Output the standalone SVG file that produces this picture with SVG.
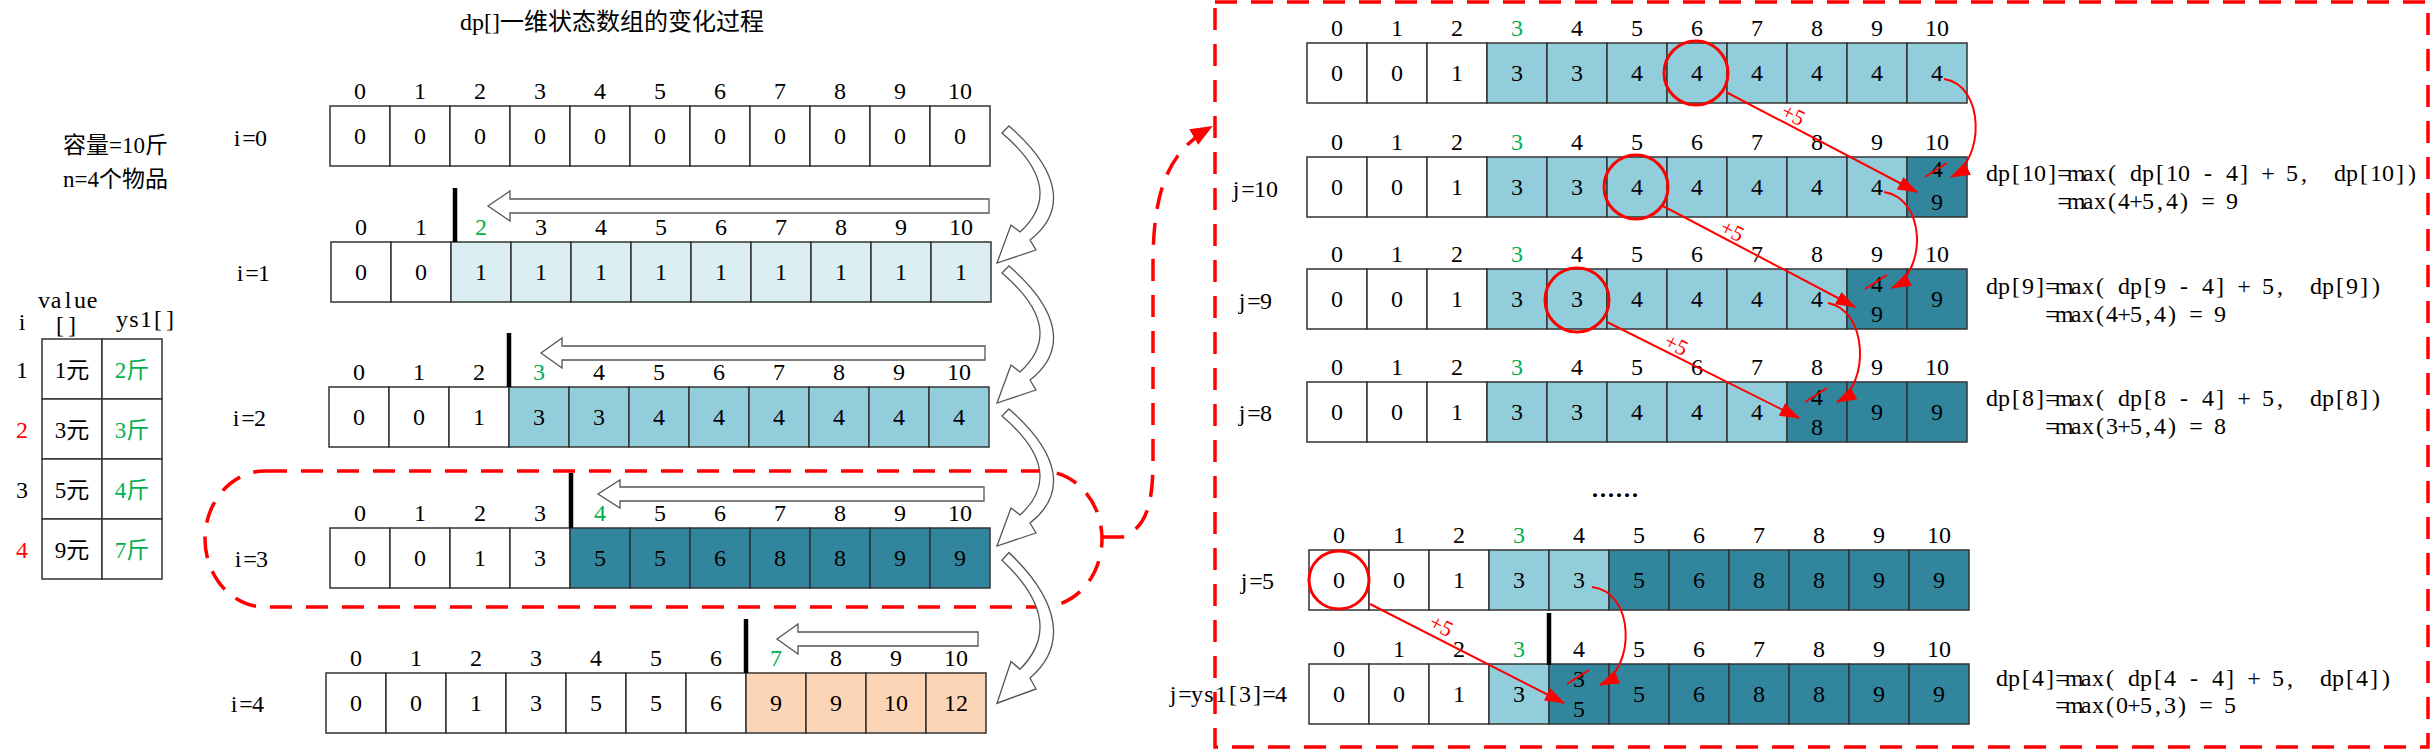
<svg xmlns="http://www.w3.org/2000/svg" xmlns:xlink="http://www.w3.org/1999/xlink" width="2434" height="750" viewBox="0 0 2434 750">
<style>
.cells rect{stroke:#333;stroke-width:1.5}
.w{fill:#fff}.l{fill:#DAEEF3}.m{fill:#92CDDC}.k{fill:#31859C}.p{fill:#FBD5B5}
.d{font-family:"Liberation Serif",serif;font-size:24px;text-anchor:middle;fill:#000}
.s{font-family:"Liberation Serif",serif;font-size:24px;text-anchor:middle;fill:#000}
.cn{font-family:"Liberation Serif","Noto Sans CJK SC",sans-serif;font-size:23px;fill:#000}
.g{fill:#00B050}.r{fill:#f00}
.hol{fill:#fff;stroke:#555;stroke-width:1.3}
.red{fill:none;stroke:#f00;stroke-width:2}
.dash{fill:none;stroke:#f00;stroke-width:3.5;stroke-dasharray:22 14}
.circ{fill:none;stroke:#f00;stroke-width:3}
.bar{stroke:#000;stroke-width:4.5}
.plus{font-family:"Liberation Serif",serif;font-size:22px;fill:#f00;text-anchor:middle}
</style>
<defs>
<marker id="rh" markerUnits="userSpaceOnUse" markerWidth="20" markerHeight="14" viewBox="0 0 20 14" refX="19" refY="7" orient="auto"><path d="M0,0 L20,7 L0,14 Z" fill="#f00"/></marker>
<marker id="bh" markerUnits="userSpaceOnUse" markerWidth="22" markerHeight="18" viewBox="0 0 22 18" refX="20" refY="9" orient="auto"><path d="M0,0 L22,9 L0,18 Z" fill="#f00"/></marker>
<path id="ca" d="M1009,126 C1062,172 1066,212 1030,240 L1036,250 L997,263 L1011,225 L1020,232 C1050,205 1048,172 1002,133 Z"/>
</defs>
<rect width="2434" height="750" fill="#fff"/>

<g id="title"><text class="cn" x="460" y="30" style="font-size:24px">dp[]一维状态数组的变化过程</text></g>

<g id="info">
<text class="cn" x="63" y="153">容量=10斤</text>
<text class="cn" x="63" y="187">n=4个物品</text>
</g>

<g id="item-table">
<text class="s" x="22" y="330">i</text>
<text class="s" transform="translate(38,308)" x="6 18 30 42 54">value</text>
<text class="s" transform="translate(54,333)" x="6 18">[]</text>
<text class="s" transform="translate(116,327)" x="6 18 30 42 54">ys1[]</text>
<g class="cells">
<rect class="w" x="42" y="339" width="60" height="60"/><rect class="w" x="102" y="339" width="60" height="60"/>
<rect class="w" x="42" y="399" width="60" height="60"/><rect class="w" x="102" y="399" width="60" height="60"/>
<rect class="w" x="42" y="459" width="60" height="60"/><rect class="w" x="102" y="459" width="60" height="60"/>
<rect class="w" x="42" y="519" width="60" height="60"/><rect class="w" x="102" y="519" width="60" height="60"/>
</g>
<text class="s" x="22" y="378">1</text>
<text class="s r" x="22" y="438">2</text>
<text class="s" x="22" y="498">3</text>
<text class="s r" x="22" y="558">4</text>
<text class="cn" x="72" y="378" text-anchor="middle">1元</text>
<text class="cn g" x="132" y="378" text-anchor="middle">2斤</text>
<text class="cn" x="72" y="438" text-anchor="middle">3元</text>
<text class="cn g" x="132" y="438" text-anchor="middle">3斤</text>
<text class="cn" x="72" y="498" text-anchor="middle">5元</text>
<text class="cn g" x="132" y="498" text-anchor="middle">4斤</text>
<text class="cn" x="72" y="558" text-anchor="middle">9元</text>
<text class="cn g" x="132" y="558" text-anchor="middle">7斤</text>
</g>

<g id="highlight-i3"><rect class="dash" x="205" y="471" width="897" height="136" rx="60" ry="68"/></g>
<g id="detail-box"><rect class="dash" x="1215" y="2" width="1213" height="745"/></g>

<g id="row-i0">
<text class="s" transform="translate(231,146)" x="6 18 30">i=0</text>
<g class="cells" transform="translate(330,106)">
<rect class="w" x="0" width="60" height="60"/><rect class="w" x="60" width="60" height="60"/><rect class="w" x="120" width="60" height="60"/><rect class="w" x="180" width="60" height="60"/><rect class="w" x="240" width="60" height="60"/><rect class="w" x="300" width="60" height="60"/><rect class="w" x="360" width="60" height="60"/><rect class="w" x="420" width="60" height="60"/><rect class="w" x="480" width="60" height="60"/><rect class="w" x="540" width="60" height="60"/><rect class="w" x="600" width="60" height="60"/>
<text class="d" x="30 90 150 210 270 330 390 450 510 570" y="-7">0123456789</text><text class="d" x="630" y="-7">10</text>
<text class="d" x="30 90 150 210 270 330 390 450 510 570 630" y="38">00000000000</text>
</g>
</g>

<g id="row-i1">
<text class="s" transform="translate(234,281)" x="6 18 30">i=1</text>
<g class="cells" transform="translate(331,242)">
<rect class="w" x="0" width="60" height="60"/><rect class="w" x="60" width="60" height="60"/><rect class="l" x="120" width="60" height="60"/><rect class="l" x="180" width="60" height="60"/><rect class="l" x="240" width="60" height="60"/><rect class="l" x="300" width="60" height="60"/><rect class="l" x="360" width="60" height="60"/><rect class="l" x="420" width="60" height="60"/><rect class="l" x="480" width="60" height="60"/><rect class="l" x="540" width="60" height="60"/><rect class="l" x="600" width="60" height="60"/>
<text class="d" x="30 90 150 210 270 330 390 450 510 570" y="-7">01<tspan class="g">2</tspan>3456789</text><text class="d" x="630" y="-7">10</text>
<text class="d" x="30 90 150 210 270 330 390 450 510 570 630" y="38">00111111111</text>
</g>
</g>

<g id="row-i2">
<text class="s" transform="translate(230,426)" x="6 18 30">i=2</text>
<g class="cells" transform="translate(329,387)">
<rect class="w" x="0" width="60" height="60"/><rect class="w" x="60" width="60" height="60"/><rect class="w" x="120" width="60" height="60"/><rect class="m" x="180" width="60" height="60"/><rect class="m" x="240" width="60" height="60"/><rect class="m" x="300" width="60" height="60"/><rect class="m" x="360" width="60" height="60"/><rect class="m" x="420" width="60" height="60"/><rect class="m" x="480" width="60" height="60"/><rect class="m" x="540" width="60" height="60"/><rect class="m" x="600" width="60" height="60"/>
<text class="d" x="30 90 150 210 270 330 390 450 510 570" y="-7">012<tspan class="g">3</tspan>456789</text><text class="d" x="630" y="-7">10</text>
<text class="d" x="30 90 150 210 270 330 390 450 510 570 630" y="38">00133444444</text>
</g>
</g>

<g id="row-i3">
<text class="s" transform="translate(232,567)" x="6 18 30">i=3</text>
<g class="cells" transform="translate(330,528)">
<rect class="w" x="0" width="60" height="60"/><rect class="w" x="60" width="60" height="60"/><rect class="w" x="120" width="60" height="60"/><rect class="w" x="180" width="60" height="60"/><rect class="k" x="240" width="60" height="60"/><rect class="k" x="300" width="60" height="60"/><rect class="k" x="360" width="60" height="60"/><rect class="k" x="420" width="60" height="60"/><rect class="k" x="480" width="60" height="60"/><rect class="k" x="540" width="60" height="60"/><rect class="k" x="600" width="60" height="60"/>
<text class="d" x="30 90 150 210 270 330 390 450 510 570" y="-7">0123<tspan class="g">4</tspan>56789</text><text class="d" x="630" y="-7">10</text>
<text class="d" x="30 90 150 210 270 330 390 450 510 570 630" y="38">00135568899</text>
</g>
</g>

<g id="row-i4">
<text class="s" transform="translate(228,712)" x="6 18 30">i=4</text>
<g class="cells" transform="translate(326,673)">
<rect class="w" x="0" width="60" height="60"/><rect class="w" x="60" width="60" height="60"/><rect class="w" x="120" width="60" height="60"/><rect class="w" x="180" width="60" height="60"/><rect class="w" x="240" width="60" height="60"/><rect class="w" x="300" width="60" height="60"/><rect class="w" x="360" width="60" height="60"/><rect class="p" x="420" width="60" height="60"/><rect class="p" x="480" width="60" height="60"/><rect class="p" x="540" width="60" height="60"/><rect class="p" x="600" width="60" height="60"/>
<text class="d" x="30 90 150 210 270 330 390 450 510 570" y="-7">0123456<tspan class="g">7</tspan>89</text><text class="d" x="630" y="-7">10</text>
<text class="d" x="30 90 150 210 270 330 390 450 510" y="38">001355699</text><text class="d" x="570" y="38">10</text><text class="d" x="630" y="38">12</text>
</g>
</g>

<g id="row-a">
<g class="cells" transform="translate(1307,43)">
<rect class="w" x="0" width="60" height="60"/><rect class="w" x="60" width="60" height="60"/><rect class="w" x="120" width="60" height="60"/><rect class="m" x="180" width="60" height="60"/><rect class="m" x="240" width="60" height="60"/><rect class="m" x="300" width="60" height="60"/><rect class="m" x="360" width="60" height="60"/><rect class="m" x="420" width="60" height="60"/><rect class="m" x="480" width="60" height="60"/><rect class="m" x="540" width="60" height="60"/><rect class="m" x="600" width="60" height="60"/>
<text class="d" x="30 90 150 210 270 330 390 450 510 570" y="-7">012<tspan class="g">3</tspan>456789</text><text class="d" x="630" y="-7">10</text>
<text class="d" x="30 90 150 210 270 330 390 450 510 570 630" y="38">00133444444</text>
</g>
</g>

<g id="row-j10">
<text class="s" transform="translate(1230,197)" x="6 18 30 42">j=10</text>
<g class="cells" transform="translate(1307,157)">
<rect class="w" x="0" width="60" height="60"/><rect class="w" x="60" width="60" height="60"/><rect class="w" x="120" width="60" height="60"/><rect class="m" x="180" width="60" height="60"/><rect class="m" x="240" width="60" height="60"/><rect class="m" x="300" width="60" height="60"/><rect class="m" x="360" width="60" height="60"/><rect class="m" x="420" width="60" height="60"/><rect class="m" x="480" width="60" height="60"/><rect class="m" x="540" width="60" height="60"/><rect class="k" x="600" width="60" height="60"/>
<text class="d" x="30 90 150 210 270 330 390 450 510 570" y="-7">012<tspan class="g">3</tspan>456789</text><text class="d" x="630" y="-7">10</text>
<text class="d" x="30 90 150 210 270 330 390 450 510 570" y="38">0013344444</text>
<text class="d" x="630" y="20">4</text><text class="d" x="630" y="53">9</text>
</g>
</g>

<g id="row-j9">
<text class="s" transform="translate(1236,309)" x="6 18 30">j=9</text>
<g class="cells" transform="translate(1307,269)">
<rect class="w" x="0" width="60" height="60"/><rect class="w" x="60" width="60" height="60"/><rect class="w" x="120" width="60" height="60"/><rect class="m" x="180" width="60" height="60"/><rect class="m" x="240" width="60" height="60"/><rect class="m" x="300" width="60" height="60"/><rect class="m" x="360" width="60" height="60"/><rect class="m" x="420" width="60" height="60"/><rect class="m" x="480" width="60" height="60"/><rect class="k" x="540" width="60" height="60"/><rect class="k" x="600" width="60" height="60"/>
<text class="d" x="30 90 150 210 270 330 390 450 510 570" y="-7">012<tspan class="g">3</tspan>456789</text><text class="d" x="630" y="-7">10</text>
<text class="d" x="30 90 150 210 270 330 390 450 510" y="38">001334444</text><text class="d" x="630" y="38">9</text>
<text class="d" x="570" y="23">4</text><text class="d" x="570" y="53">9</text>
</g>
</g>

<g id="row-j8">
<text class="s" transform="translate(1236,421)" x="6 18 30">j=8</text>
<g class="cells" transform="translate(1307,382)">
<rect class="w" x="0" width="60" height="60"/><rect class="w" x="60" width="60" height="60"/><rect class="w" x="120" width="60" height="60"/><rect class="m" x="180" width="60" height="60"/><rect class="m" x="240" width="60" height="60"/><rect class="m" x="300" width="60" height="60"/><rect class="m" x="360" width="60" height="60"/><rect class="m" x="420" width="60" height="60"/><rect class="k" x="480" width="60" height="60"/><rect class="k" x="540" width="60" height="60"/><rect class="k" x="600" width="60" height="60"/>
<text class="d" x="30 90 150 210 270 330 390 450 510 570" y="-7">012<tspan class="g">3</tspan>456789</text><text class="d" x="630" y="-7">10</text>
<text class="d" x="30 90 150 210 270 330 390 450" y="38">00133444</text><text class="d" x="570 630" y="38">99</text>
<text class="d" x="510" y="23">4</text><text class="d" x="510" y="53">8</text>
</g>
</g>

<g id="ellipsis"><text class="s" x="1595 1603 1611 1619 1627 1635" y="497" style="font-weight:bold">......</text></g>

<g id="row-j5">
<text class="s" transform="translate(1238,589)" x="6 18 30">j=5</text>
<g class="cells" transform="translate(1309,550)">
<rect class="w" x="0" width="60" height="60"/><rect class="w" x="60" width="60" height="60"/><rect class="w" x="120" width="60" height="60"/><rect class="m" x="180" width="60" height="60"/><rect class="m" x="240" width="60" height="60"/><rect class="k" x="300" width="60" height="60"/><rect class="k" x="360" width="60" height="60"/><rect class="k" x="420" width="60" height="60"/><rect class="k" x="480" width="60" height="60"/><rect class="k" x="540" width="60" height="60"/><rect class="k" x="600" width="60" height="60"/>
<text class="d" x="30 90 150 210 270 330 390 450 510 570" y="-7">012<tspan class="g">3</tspan>456789</text><text class="d" x="630" y="-7">10</text>
<text class="d" x="30 90 150 210 270 330 390 450 510 570 630" y="38">00133568899</text>
</g>
</g>

<g id="row-j4">
<text class="s" transform="translate(1167,702)" x="6 18 30 42 54 66 78 90 102 114">j=ys1[3]=4</text>
<g class="cells" transform="translate(1309,664)">
<rect class="w" x="0" width="60" height="60"/><rect class="w" x="60" width="60" height="60"/><rect class="w" x="120" width="60" height="60"/><rect class="m" x="180" width="60" height="60"/><rect class="k" x="240" width="60" height="60"/><rect class="k" x="300" width="60" height="60"/><rect class="k" x="360" width="60" height="60"/><rect class="k" x="420" width="60" height="60"/><rect class="k" x="480" width="60" height="60"/><rect class="k" x="540" width="60" height="60"/><rect class="k" x="600" width="60" height="60"/>
<text class="d" x="30 90 150 210 270 330 390 450 510 570" y="-7">012<tspan class="g">3</tspan>456789</text><text class="d" x="630" y="-7">10</text>
<text class="d" x="30 90 150 210" y="38">0013</text><text class="d" x="330 390 450 510 570 630" y="38">568899</text>
<text class="d" x="270" y="23">3</text><text class="d" x="270" y="53">5</text>
</g>
</g>

<g id="formulas">
<text class="s" xml:space="preserve" transform="translate(1986,181)" x="6 18 30 42 54 66 78 90 102 114 126 138 150 162 174 186 198 210 222 234 246 258 270 282 294 306 318 330 342 354 366 378 390 402 414 426">dp[10]=max( dp[10 - 4] + 5,  dp[10])</text>
<text class="s" xml:space="preserve" transform="translate(2058,209)" x="6 18 30 42 54 66 78 90 102 114 126 138 150 162 174">=max(4+5,4) = 9</text>
<text class="s" xml:space="preserve" transform="translate(1986,294)" x="6 18 30 42 54 66 78 90 102 114 126 138 150 162 174 186 198 210 222 234 246 258 270 282 294 306 318 330 342 354 366 378 390">dp[9]=max( dp[9 - 4] + 5,  dp[9])</text>
<text class="s" xml:space="preserve" transform="translate(2046,322)" x="6 18 30 42 54 66 78 90 102 114 126 138 150 162 174">=max(4+5,4) = 9</text>
<text class="s" xml:space="preserve" transform="translate(1986,406)" x="6 18 30 42 54 66 78 90 102 114 126 138 150 162 174 186 198 210 222 234 246 258 270 282 294 306 318 330 342 354 366 378 390">dp[8]=max( dp[8 - 4] + 5,  dp[8])</text>
<text class="s" xml:space="preserve" transform="translate(2046,434)" x="6 18 30 42 54 66 78 90 102 114 126 138 150 162 174">=max(3+5,4) = 8</text>
<text class="s" xml:space="preserve" transform="translate(1996,686)" x="6 18 30 42 54 66 78 90 102 114 126 138 150 162 174 186 198 210 222 234 246 258 270 282 294 306 318 330 342 354 366 378 390">dp[4]=max( dp[4 - 4] + 5,  dp[4])</text>
<text class="s" xml:space="preserve" transform="translate(2056,713)" x="6 18 30 42 54 66 78 90 102 114 126 138 150 162 174">=max(0+5,3) = 5</text>
</g>

<g id="connectors">
<path class="hol" d="M488,206 L510,191 L510,199 L989,199 L989,213 L510,213 L510,221 Z"/>
<path class="hol" d="M541,353 L562,338 L562,346 L985,346 L985,360 L562,360 L562,368 Z"/>
<path class="hol" d="M598,494 L620,480 L620,487 L984,487 L984,501 L620,501 L620,508 Z"/>
<path class="hol" d="M777,639 L798,624 L798,632 L978,632 L978,646 L798,646 L798,654 Z"/>
<use class="hol" xlink:href="#ca"/>
<use class="hol" xlink:href="#ca" transform="translate(0,140)"/>
<use class="hol" xlink:href="#ca" transform="translate(0,283)"/>
<use class="hol" xlink:href="#ca" transform="translate(0,557) scale(1,1.1) translate(0,-130)"/>
<line class="bar" x1="455" y1="188" x2="455" y2="242"/>
<line class="bar" x1="509" y1="333" x2="509" y2="387"/>
<line class="bar" x1="571" y1="473" x2="571" y2="528"/>
<line class="bar" x1="746" y1="619" x2="746" y2="673"/>
<line class="bar" x1="1549" y1="613" x2="1549" y2="665"/>
<path class="dash" d="M1102,537 L1122,537 C1148,528 1153,500 1153,460 L1153,265 C1153,190 1168,152 1211,127" marker-end="url(#bh)"/>
<ellipse class="circ" cx="1696" cy="73" rx="32" ry="32"/>
<ellipse class="circ" cx="1636" cy="187" rx="32" ry="32"/>
<ellipse class="circ" cx="1577" cy="300" rx="32" ry="32"/>
<ellipse class="circ" cx="1339" cy="580" rx="30" ry="29"/>
<line class="red" x1="1726" y1="92" x2="1917" y2="192" marker-end="url(#rh)"/>
<line class="red" x1="1663" y1="206" x2="1855" y2="307" marker-end="url(#rh)"/>
<line class="red" x1="1607" y1="322" x2="1799" y2="418" marker-end="url(#rh)"/>
<line class="red" x1="1370" y1="604" x2="1564" y2="703" marker-end="url(#rh)"/>
<path class="red" d="M1944,79 C1985,85 1985,160 1951,177" marker-end="url(#rh)"/>
<path class="red" d="M1884,192 C1925,198 1928,270 1892,288" marker-end="url(#rh)"/>
<path class="red" d="M1828,303 C1868,310 1870,385 1837,402" marker-end="url(#rh)"/>
<path class="red" d="M1592,587 C1635,592 1636,668 1600,685" marker-end="url(#rh)"/>
<line class="red" x1="1925" y1="177" x2="1947" y2="163"/>
<line class="red" x1="1865" y1="289" x2="1887" y2="275"/>
<line class="red" x1="1805" y1="402" x2="1827" y2="388"/>
<line class="red" x1="1567" y1="684" x2="1589" y2="670"/>
<text class="plus" transform="translate(1793,115) rotate(27)" y="7">+5</text>
<text class="plus" transform="translate(1732,231) rotate(27)" y="7">+5</text>
<text class="plus" transform="translate(1676,345) rotate(27)" y="7">+5</text>
<text class="plus" transform="translate(1441,626) rotate(27)" y="7">+5</text>
</g>
</svg>
